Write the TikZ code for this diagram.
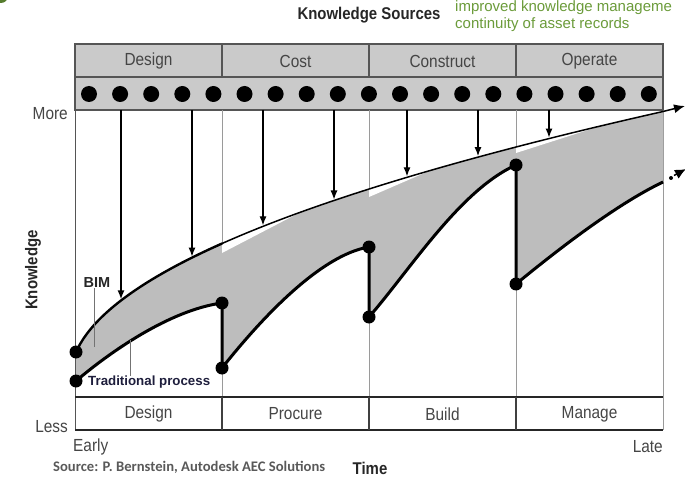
\documentclass[tikz,border=0pt]{standalone}
\usepackage{fontspec}
\setmainfont{Liberation Sans}
\newfontfamily\srcfont{Carlito}
\newfontfamily\condfont[FakeStretch=0.88]{Liberation Sans}
\usetikzlibrary{arrows.meta}
\definecolor{hdrgray}{HTML}{CACACA}
\definecolor{areagray}{HTML}{BDBDBD}
\definecolor{txtgray}{HTML}{454545}
\definecolor{linegray}{HTML}{555555}
\definecolor{divgray}{HTML}{9A9A9A}
\definecolor{srcgreen}{HTML}{6B9B3A}
\definecolor{navytxt}{HTML}{1E1E3C}
\begin{document}
\begin{tikzpicture}[x=1pt,y=-1pt,
  declare function={f(\x)=378.9-10.98*sqrt(\x-70);},
  lbl/.style={font=\condfont\fontsize{17.5}{19}\selectfont, text=txtgray, inner sep=0pt},
  axislbl/.style={font=\condfont\fontsize{17.5}{19}\selectfont, text=txtgray, inner sep=0pt},
  boldlbl/.style={font=\condfont\fontsize{17}{19}\selectfont\bfseries, text=black!85, inner sep=0pt},
  greentxt/.style={font=\fontsize{15}{17}\selectfont, text=srcgreen, inner sep=0pt, anchor=west},
  srcarrow/.style={line width=1.2pt, -{Latex[length=9pt,width=7pt]}},
  leader/.style={line width=0.8pt, draw=black!55},
  enddot/.style={fill=black},
  framel/.style={draw=linegray, line width=1.2pt}]
\useasboundingbox (0,0) rectangle (685,481);

% tiny green corner mark
\fill[srcgreen!80!black] (1,-4) circle[radius=7pt];

% title texts
\node[boldlbl] (ks) at (369,15) {Knowledge Sources};
\node[greentxt] (g1) at (455,8) {improved knowledge manageme};
\node[greentxt] (g2) at (455,25) {continuity of asset records};

% header band
\fill[hdrgray] (75,44) rectangle (663,110);
\draw[framel] (75,44) rectangle (663,110);
\draw[framel] (75,77) -- (663,77);
\foreach \xx in {222,369,516} \draw[framel] (\xx,44) -- (\xx,77);
\node[lbl] (hd) at (148.5,61) {Design};
\node[lbl] (hc) at (295.5,61) {Cost};
\node[lbl] (hb) at (442.5,61) {Construct};
\node[lbl] (ho) at (589.5,61) {Operate};
\foreach \i in {0,...,18} \fill (89+31.1*\i,94) circle[radius=8pt];

% plot frame and dividers
\draw[draw=linegray, line width=1pt] (75,110) -- (75,430);
\draw[draw=divgray, line width=1pt] (663,110) -- (663,430);
\foreach \xx in {222,369,516} \draw[draw=divgray, line width=0.9pt] (\xx,110) -- (\xx,397);

% gray knowledge area
\fill[areagray] plot[domain=76:663, samples=90] (\x,{f(\x)})
  -- (663,182) .. controls (615,205) and (555,252) .. (516,284)
  -- (516,165) .. controls (460,190) and (410,270) .. (369,317)
  -- (369,247) .. controls (320,255) and (260,320) .. (222,368)
  -- (222,303) .. controls (170,310) and (110,352) .. (76,381) -- cycle;
% white slivers under the BIM line
\fill[white] plot[domain=222:300, samples=30] (\x,{f(\x)}) -- (222,253) -- cycle;
\fill[white] plot[domain=369:430, samples=30] (\x,{f(\x)}) -- (369,197) -- cycle;
\fill[white] plot[domain=516:600, samples=30] (\x,{f(\x)}) -- (516,153) -- cycle;
\foreach \xx/\ya in {222/243.5,369/189,516/147} \draw[draw=divgray, line width=0.9pt] (\xx,110) -- (\xx,\ya);

% BIM line
\draw[line width=2.4pt, line cap=round] plot[domain=76:222, samples=40] (\x,{f(\x)});
\draw[line width=1.5pt] plot[domain=222:663, samples=90] (\x,{f(\x)});
\coordinate (bimend) at (663,{f(663)});
\coordinate (bimtip) at (685,106);
\draw[line width=1.5pt, -{Latex[length=11pt,width=9pt]}] (bimend) -- (bimtip);

% traditional process sawtooth
\coordinate (d1) at (76,352);
\coordinate (d2) at (76,381);
\coordinate (d3) at (222,303);
\coordinate (d4) at (222,368);
\coordinate (d5) at (369,247);
\coordinate (d6) at (369,317);
\coordinate (d7) at (516,165);
\coordinate (d8) at (516,284);
\coordinate (d9) at (663,182);
\draw[line width=3pt, line join=round]
  (d2) .. controls (110,352) and (170,310) .. (d3) -- (d4)
  .. controls (260,320) and (320,255) .. (d5) -- (d6)
  .. controls (410,270) and (460,190) .. (d7) -- (d8)
  .. controls (555,252) and (615,205) .. (d9);
\foreach \d in {d1,d2,d3,d4,d5,d6,d7,d8} \fill[enddot] (\d) circle[radius=6.5pt];
\coordinate (tdot) at (671,178);
\fill (tdot) circle[radius=2pt];
\coordinate (ta) at (674,175.5);
\coordinate (tb) at (686,169);
\draw[line width=1.5pt, -{Latex[length=11pt,width=10pt]}] (ta) -- (tb);

% knowledge source arrows
\foreach \xx [count=\k] in {121,192,263,334,407,478,549} {
  \coordinate (s\k) at (\xx,110);
  \coordinate (e\k) at (\xx,{f(\xx)-1});
}
\draw[srcarrow, line width=2pt] (s1) -- (e1);
\foreach \k in {2,...,7} \draw[srcarrow] (s\k) -- (e\k);

% labels BIM / Traditional
\node[font=\fontsize{14.5}{16}\selectfont\bfseries, text=black!85, inner sep=0pt] (bim) at (97,283) {BIM};
\coordinate (bimlead) at (94,347);
\draw[leader] (bim.south -| bimlead) -- (bimlead);
\node[font=\fontsize{13.3}{15}\selectfont\bfseries, text=navytxt, inner sep=0pt, anchor=west] (trad) at (88,382.5) {Traditional process};
\coordinate (tradlead) at (130,340);
\draw[leader] (tradlead |- trad.north) -- (tradlead);

% bottom band
\draw[line width=1.6pt, draw=black!85] (75,397) -- (663,397);
\draw[line width=1.6pt, draw=black!85] (75,430) -- (663,430);
\foreach \xx in {222,369,516} \draw[draw=black!75, line width=1.1pt] (\xx,397) -- (\xx,430);
\node[lbl] (bd) at (148.5,414) {Design};
\node[lbl] (bp) at (295.5,414) {Procure};
\node[lbl] (bb) at (442.5,414) {Build};
\node[lbl] (bm) at (589.5,414) {Manage};

% axes labels
\node[axislbl, anchor=east] (more) at (68,114) {More};
\node[axislbl, anchor=east] (less) at (68,427) {Less};
\node[axislbl, anchor=west] (early) at (73,447) {Early};
\node[axislbl, anchor=east] (late) at (663,447) {Late};
\node[boldlbl, rotate=90] (kn) at (33,270) {Knowledge};
\node[boldlbl] (time) at (370,468) {Time};
\node[anchor=west, inner sep=0pt, text=black!65] (src) at (53,467)
  {\resizebox{272pt}{!}{\srcfont\bfseries Source: P. Bernstein, Autodesk AEC Solutions}};
\end{tikzpicture}
\end{document}
